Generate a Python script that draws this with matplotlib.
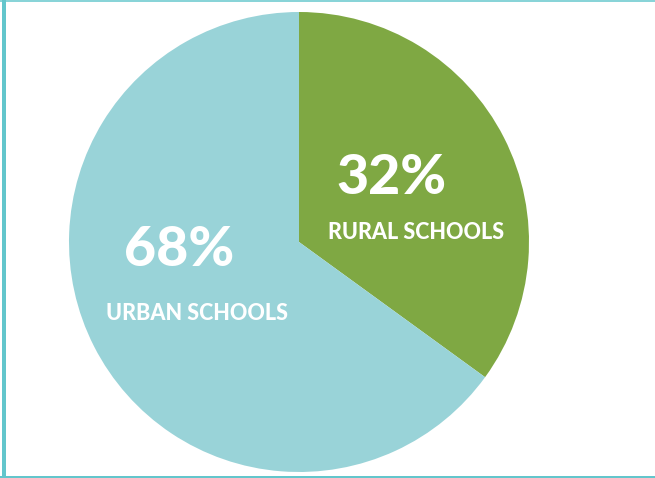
import matplotlib
matplotlib.use("Agg")
import matplotlib.pyplot as plt
from matplotlib.lines import Line2D

# Data (wedge geometry; labels as printed)
categories = ["RURAL SCHOOLS", "URBAN SCHOOLS"]
shares = [35, 65]
pct_labels = ["32%", "68%"]
colors = ["#7FA843", "#99D3D8"]

W, H = 655, 478
fig = plt.figure(figsize=(W / 100, H / 100), dpi=100)
ax = fig.add_axes([0, 0, 1, 1])

ax.pie(shares, colors=colors, startangle=90, counterclock=False,
       center=(299, H - 242), radius=230, frame=True,
       wedgeprops=dict(linewidth=0, antialiased=True))
ax.set_xlim(0, W)
ax.set_ylim(0, H)
ax.set_aspect("equal")
ax.axis("off")

font = ["Lato", "DejaVu Sans"]
big = 40
small = 15.5
wt = 900
# rural
ax.text(392, H - 178, pct_labels[0], color="white", fontsize=big, fontweight=wt,
        family=font, ha="center", va="center")
ax.text(416, H - 232, categories[0], color="white", fontsize=small, fontweight=wt,
        family=font, ha="center", va="center")
# urban
ax.text(179, H - 250, pct_labels[1], color="white", fontsize=big, fontweight=wt,
        family=font, ha="center", va="center")
ax.text(197, H - 313, categories[1], color="white", fontsize=small, fontweight=wt,
        family=font, ha="center", va="center")

# frame lines
border = "#63C6CC"
fig.add_artist(Line2D([4 / W, 4 / W], [0, 1], transform=fig.transFigure,
                      color=border, linewidth=4 * 0.72))
fig.add_artist(Line2D([0, 1], [1 - 0.5 / H, 1 - 0.5 / H], transform=fig.transFigure,
                      color=border, linewidth=1.5 * 0.72))
fig.add_artist(Line2D([0, 1], [1 / H, 1 / H], transform=fig.transFigure,
                      color=border, linewidth=2 * 0.72))

fig.savefig("out.png", dpi=100)
